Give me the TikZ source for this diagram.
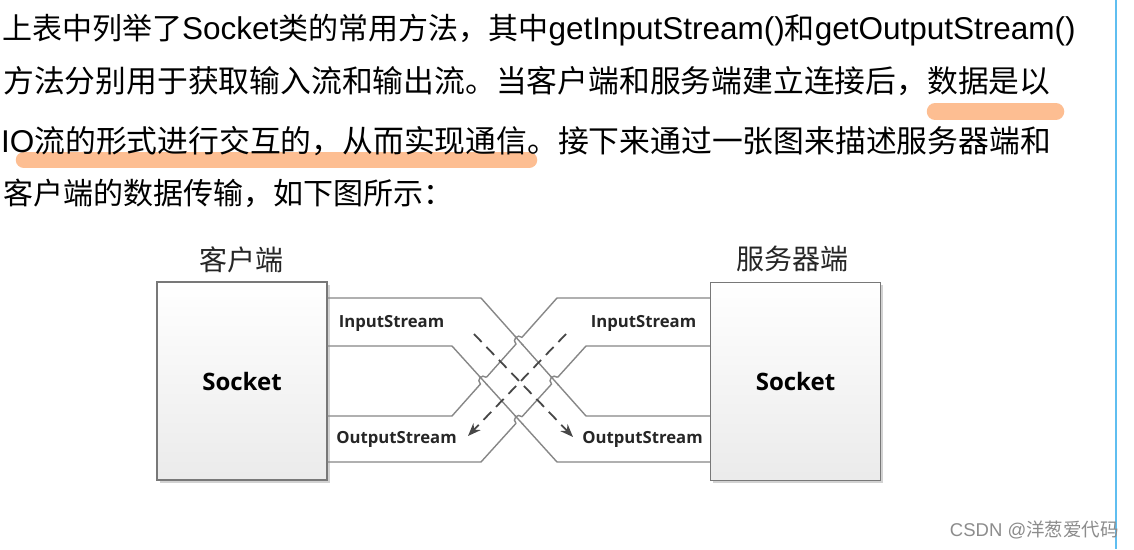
\documentclass[tikz,border=0pt]{standalone}
\usepackage{fontspec}
\setmainfont{Liberation Sans}
\newfontfamily\cjk{Noto Sans CJK SC}
\newfontfamily\lbl{Open Sans}
\usetikzlibrary{arrows.meta,intersections,calc,shadows}
\definecolor{hilite}{RGB}{253,190,146}
\definecolor{wirecol}{RGB}{135,135,135}
\definecolor{edgecol}{RGB}{120,120,120}
\definecolor{rulecol}{RGB}{95,190,240}
\newcommand{\zh}[1]{{\cjk\fontsize{30}{30}\selectfont #1}}
\newcommand{\zhw}[1]{{\cjk\fontsize{30.8}{31}\selectfont #1}}
\newcommand{\hop}[3]{%
  \fill[white] (#1) circle (4.5pt);
  \draw[wireline] ($(#1)!6pt!(#2)$) -- ($(#1)!-6pt!(#2)$);
  \coordinate (hs) at ($(#1)!-4.5pt!(#3)$);
  \coordinate (he) at ($(#1)!4.5pt!(#3)$);
  \draw[wireline] (hs) .. controls ($(hs)!6pt!90:(#1)$) and ($(he)!6pt!-90:(#1)$) .. (he);
}
\tikzset{
  para/.style={anchor=base west,inner sep=0pt,text=black,font=\fontsize{31.5}{34}\selectfont},
  hl/.style={draw=hilite,line width=16.5pt,line cap=round},
  sockbox/.style={draw=edgecol,line width=1.3pt,top color=white,bottom color=black!8,
    drop shadow={shadow xshift=2.5pt,shadow yshift=-2.5pt,fill=black!35},
    minimum width=170pt,minimum height=198pt,font=\lbl\bfseries\fontsize{24}{28}\selectfont},
  side/.style={inner sep=0pt,font=\cjk\fontsize{28}{30}\selectfont,text=black!85},
  stream/.style={inner sep=0pt,font=\lbl\bfseries\fontsize{16.7}{18}\selectfont,text=black!85},
  wireline/.style={draw=wirecol,line width=1.4pt},
  flow/.style={draw=black!72,line width=1.8pt,dash pattern=on 11pt off 7pt,-{Stealth[length=13pt,width=10pt]}}
}
\begin{document}
\begin{tikzpicture}[x=1pt,y=-1pt]
\useasboundingbox (0,0) rectangle (1134,549);
\fill[white] (0,0) rectangle (1134,549);
\draw[hl] (935,111.5) -- (1056,111.5);
\draw[hl] (24,160) -- (529,160);
\node (l1) at (2,39.5) [para] {\zh{上表中列举了}Socket\zh{类的常用方法，其中}getInputStream()\zh{和}getOutputStream()};
\node (l2) at (3,92) [para] {\zhw{方法分别用于获取输入流和输出流。当客户端和服务端建立连接后，数据是以}};
\node (l3) at (1,152) [para] {IO\zhw{流的形式进行交互的，从而实现通信。接下来通过一张图来描述服务器端和}};
\node (l4) at (3,204) [para] {\zh{客户端的数据传输，如下图所示：}};
\draw[rulecol,line width=1.5pt] (1116,0) -- (1116,549);
\node (wm) at (1119,530) [anchor=east,inner sep=0pt,text=black!45,font=\fontsize{18.5}{20}\selectfont] {CSDN @{\cjk 洋葱爱代码}};

\node (cbox) at (242,381) [sockbox] {Socket};
\node (sbox) at (795.5,381.5) [sockbox] {Socket};
\node (cname) at (241.5,260) [side] {客户端};
\node (sname) at (792.5,258.5) [side] {服务器端};

\coordinate (lo1) at (481,298);
\coordinate (li2) at (452,346);
\coordinate (li3) at (452,416);
\coordinate (lo4) at (481,462);
\coordinate (ro1) at (557,298);
\coordinate (ri2) at (586,346);
\coordinate (ri3) at (586,416);
\coordinate (ro4) at (557,462);
\draw[wireline,name path=pa1] (cbox.east |- lo1) -- (lo1) -- (ri3) -- (sbox.west |- ri3);
\draw[wireline,name path=pa2] (cbox.east |- li2) -- (li2) -- (ro4) -- (sbox.west |- ro4);
\draw[wireline,name path=pb1] (cbox.east |- li3) -- (li3) -- (ro1) -- (sbox.west |- ro1);
\draw[wireline,name path=pb2] (cbox.east |- lo4) -- (lo4) -- (ri2) -- (sbox.west |- ri2);
\path[name intersections={of=pa1 and pb1,by=x11}];
\path[name intersections={of=pa1 and pb2,by=x12}];
\path[name intersections={of=pa2 and pb1,by=x21}];
\path[name intersections={of=pa2 and pb2,by=x22}];
\hop{x11}{ri3}{ro1}
\hop{x12}{ri3}{ri2}
\hop{x21}{ro4}{ro1}
\hop{x22}{ro4}{ri2}

\node (cin) at (391.5,323) [stream] {InputStream};
\node (cout) at (396.5,439) [stream] {OutputStream};
\node (sin) at (643.5,323) [stream] {InputStream};
\node (sout) at (642.5,439) [stream] {OutputStream};

\coordinate (d1) at (474,334);
\coordinate (d1e) at (573,437);
\coordinate (d2) at (566,334);
\coordinate (d2e) at (468,436);
\draw[flow] (d1) -- (d1e);
\draw[flow] (d2) -- (d2e);
\end{tikzpicture}
\end{document}
